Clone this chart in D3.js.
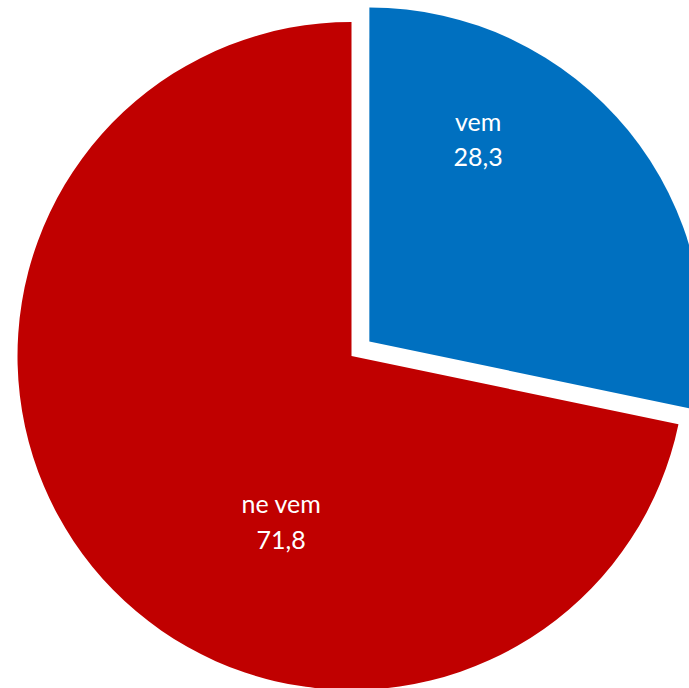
<!DOCTYPE html>
<html>
<head>
<meta charset="utf-8">
<script src="https://cdn.jsdelivr.net/npm/d3@7"></script>
<style>
  html, body { margin: 0; padding: 0; background: #fff; }
  svg { display: block; }
</style>
</head>
<body>
<svg id="chart" width="689" height="688"></svg>
<script>
// Data
const categories = ["vem", "ne vem"];
const values = [28.3, 71.8];
const valueLabels = ["28,3", "71,8"];
const colors = ["#0070C0", "#C00000"];
const exploded = [true, false];

// Layout
const W = 689, H = 688;
const cx = 351.5, cy = 356, R = 334;
const explodeDist = 23;
// label polar placement (angle in degrees clockwise from top, radius fraction)
const labelAngle = [29.4, 201.9];
const labelRadius = [0.663, 0.565];
const lineGap = 35.5;

const svg = d3.select("#chart");
const data = categories.map((c, i) => ({ cat: c, value: values[i], label: valueLabels[i], color: colors[i], ex: exploded[i], i }));

const pie = d3.pie().value(d => d.value).sort(null).startAngle(0).endAngle(2 * Math.PI);
const arcs = pie(data);
const arc = d3.arc().innerRadius(0).outerRadius(R);

const g = svg.append("g").attr("transform", `translate(${cx},${cy})`);

const slices = g.selectAll("g.slice").data(arcs).join("g")
  .attr("class", "slice")
  .attr("transform", d => {
    if (!d.data.ex) return null;
    const a = (d.startAngle + d.endAngle) / 2;
    return `translate(${Math.sin(a) * explodeDist},${-Math.cos(a) * explodeDist})`;
  });

slices.append("path")
  .attr("d", arc)
  .attr("fill", d => d.data.color);

slices.append("text")
  .attr("font-family", "Lato, 'Open Sans', sans-serif")
  .attr("font-size", 25)
  .attr("fill", "#fff")
  .attr("text-anchor", "middle")
  .each(function (d) {
    const a = labelAngle[d.data.i] * Math.PI / 180;
    const r = labelRadius[d.data.i] * R;
    const x = Math.sin(a) * r, y = -Math.cos(a) * r;
    const t = d3.select(this);
    t.append("tspan").attr("x", x).attr("y", y - lineGap / 2).text(d.data.cat);
    t.append("tspan").attr("x", x).attr("y", y + lineGap / 2).text(d.data.label);
  });
</script>
</body>
</html>
